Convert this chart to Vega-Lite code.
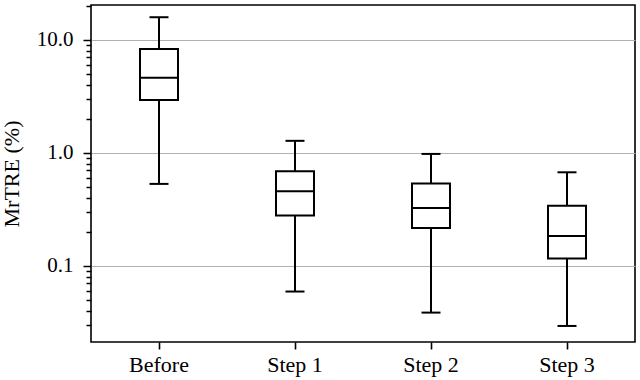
{
  "$schema": "https://vega.github.io/schema/vega-lite/v6.json",
  "autosize": "none",
  "width": 544,
  "height": 337,
  "padding": {"left": 91, "top": 5, "right": 5, "bottom": 38},
  "background": "white",
  "config": {
    "view": {"stroke": "black", "strokeWidth": 1.6},
    "font": "Liberation Serif",
    "axis": {"labelFont": "Liberation Serif", "titleFont": "Liberation Serif", "labelColor": "black", "titleColor": "black", "tickColor": "black", "domainColor": "black"}
  },
  "data": {
    "values": [
      {"stage": "Before", "lower": 0.532, "q1": 2.94, "median": 4.64, "q3": 8.3, "upper": 15.9},
      {"stage": "Step 1", "lower": 0.0593, "q1": 0.28, "median": 0.457, "q3": 0.687, "upper": 1.28},
      {"stage": "Step 2", "lower": 0.0386, "q1": 0.217, "median": 0.326, "q3": 0.535, "upper": 0.98},
      {"stage": "Step 3", "lower": 0.0294, "q1": 0.116, "median": 0.184, "q3": 0.34, "upper": 0.674}
    ]
  },
  "encoding": {
    "x": {
      "field": "stage", "type": "nominal", "sort": null,
      "scale": {"paddingInner": 0, "paddingOuter": 0},
      "axis": {"title": null, "labelAngle": 0, "labelFontSize": 22, "tickSize": 7, "tickWidth": 1.6, "labelPadding": 5, "domain": false, "grid": false}
    }
  },
  "layer": [
    {
      "mark": {"type": "rule", "stroke": "black", "strokeWidth": 2},
      "encoding": {
        "y": {
          "field": "lower", "type": "quantitative",
          "scale": {"type": "log", "domain": [0.0212, 20.4], "nice": false, "zero": false},
          "axis": {
            "title": "MrTRE (%)", "titleFontSize": 22, "titleFontWeight": "normal", "titlePadding": 13,
            "values": [0.03, 0.04, 0.05, 0.06, 0.07, 0.08, 0.09, 0.1, 0.2, 0.3, 0.4, 0.5, 0.6, 0.7, 0.8, 0.9, 1, 2, 3, 4, 5, 6, 7, 8, 9, 10, 20],
            "labelExpr": "indexof([0.1, 1, 10], datum.value) >= 0 ? format(datum.value, '.1f') : ''",
            "labelFontSize": 21,
            "tickSize": {"condition": {"test": "indexof([0.1, 1, 10], datum.value) >= 0", "value": 8}, "value": 5},
            "tickWidth": 1.5, "labelPadding": 10, "domain": false,
            "grid": true, "gridColor": "#b0b0b0", "gridWidth": 1.2,
            "gridOpacity": {"condition": {"test": "indexof([0.1, 1, 10], datum.value) >= 0", "value": 1}, "value": 0}
          }
        },
        "y2": {"field": "upper"}
      }
    },
    {
      "mark": {"type": "bar", "fill": "white", "stroke": "black", "strokeWidth": 2, "size": 38},
      "encoding": {
        "y": {"field": "q1", "type": "quantitative"},
        "y2": {"field": "q3"}
      }
    },
    {
      "mark": {"type": "tick", "color": "black", "opacity": 1, "thickness": 2, "size": 38},
      "encoding": {"y": {"field": "median", "type": "quantitative"}}
    },
    {
      "mark": {"type": "tick", "color": "black", "opacity": 1, "thickness": 2, "size": 19},
      "encoding": {"y": {"field": "upper", "type": "quantitative"}}
    },
    {
      "mark": {"type": "tick", "color": "black", "opacity": 1, "thickness": 2, "size": 19},
      "encoding": {"y": {"field": "lower", "type": "quantitative"}}
    }
  ]
}
